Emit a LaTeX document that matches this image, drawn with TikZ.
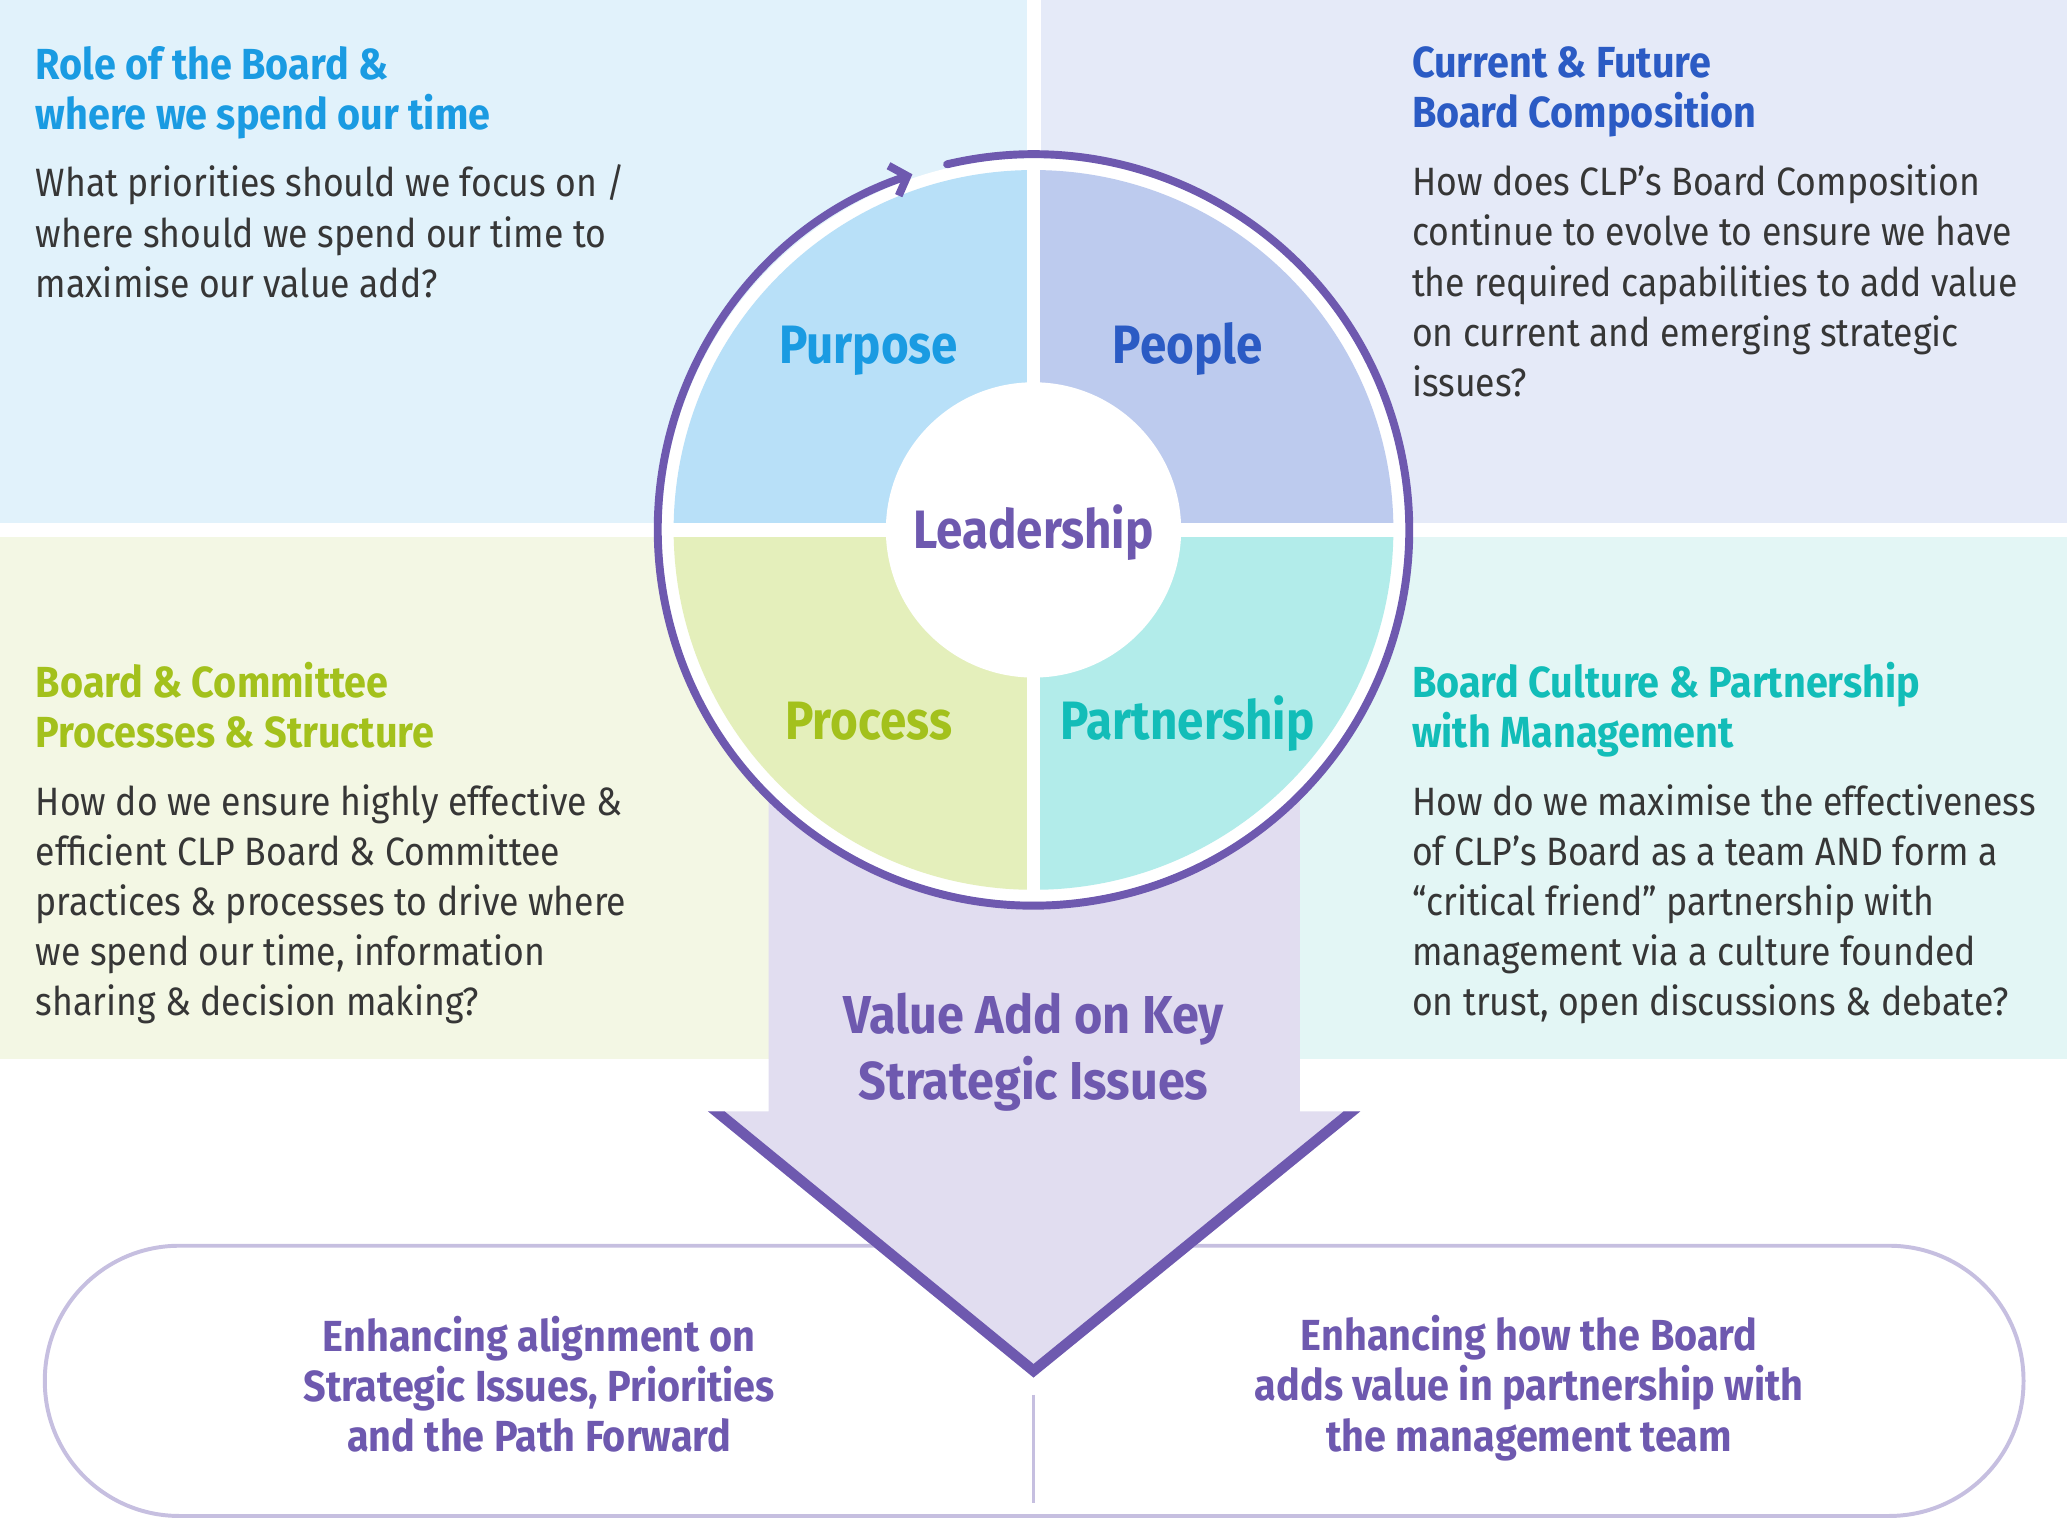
\documentclass[tikz,border=0pt]{standalone}
\usepackage{fontspec}
\setmainfont[FakeStretch=0.91]{Fira Sans}
\newfontfamily\segfont[FakeStretch=0.88]{Fira Sans}
\newfontfamily\bodyfont[FakeStretch=0.9]{Fira Sans}
\usetikzlibrary{arrows.meta}

\definecolor{tlbg}{HTML}{E1F2FB}
\definecolor{trbg}{HTML}{E5EAF8}
\definecolor{blbg}{HTML}{F3F7E4}
\definecolor{brbg}{HTML}{E3F6F5}
\definecolor{tlpie}{HTML}{B8E0F8}
\definecolor{trpie}{HTML}{BDCBEE}
\definecolor{blpie}{HTML}{E4EFBB}
\definecolor{brpie}{HTML}{B2ECEA}
\definecolor{tlhead}{HTML}{1A9BE2}
\definecolor{trhead}{HTML}{2B5BC4}
\definecolor{blhead}{HTML}{A3C11C}
\definecolor{brhead}{HTML}{12BDB8}
\definecolor{clppurple}{HTML}{6E59AF}
\definecolor{arrowfill}{HTML}{E1DDF0}
\definecolor{pillline}{HTML}{C6BFE0}
\definecolor{ink}{HTML}{363636}

\begin{document}
\begin{tikzpicture}[x=1pt, y=1pt,
  hdr/.style={anchor=north west, align=left, inner sep=0pt, font=\bfseries\fontsize{33}{38}\selectfont},
  txt/.style={anchor=north west, align=left, inner sep=0pt, text=ink, font=\bodyfont\fontsize{30}{38}\selectfont},
  seg/.style={anchor=base, inner sep=0pt, font=\segfont\bfseries\fontsize{41}{48}\selectfont},
  goal/.style={align=center, inner sep=0pt, text=clppurple, font=\bfseries\fontsize{33}{38}\selectfont}]
\useasboundingbox (0,0) rectangle (1568,1160);
% four background panels
\fill[tlbg] (0,763) rectangle (779,1160);
\fill[trbg] (790,763) rectangle (1568,1160);
\fill[blbg] (0,357) rectangle (779,753);
\fill[brbg] (790,357) rectangle (1568,753);
% outcome pill
\draw[pillline, line width=3pt, rounded corners=102pt] (34,10) rectangle (1535,215);
\coordinate (dtop) at (784,102);
\coordinate (dbot) at (784,20);
\draw[pillline, line width=2.5pt] (dtop) -- (dbot);
% big arrow
\coordinate (hl) at (537,317);
\coordinate (hr) at (1032,317);
\coordinate (tip) at (784,115);
\fill[arrowfill] (583,660) -- (583,317) -- (hl) -- (tip) -- (hr) -- (986,317) -- (986,660) -- cycle;
\begin{scope}
\clip (hl) -- (tip) -- (hr) -- cycle;
\draw[clppurple, line width=16pt, line join=miter] (hl) -- (tip) -- (hr);
\end{scope}
% wheel
\coordinate (c) at (784,758);
\fill[white] (c) circle[radius=282];
\fill[tlpie] (c) -- ++(180:273) arc[start angle=180, end angle=90, radius=273] -- cycle;
\fill[trpie] (c) -- ++(90:273) arc[start angle=90, end angle=0, radius=273] -- cycle;
\fill[brpie] (c) -- ++(0:273) arc[start angle=0, end angle=-90, radius=273] -- cycle;
\fill[blpie] (c) -- ++(-90:273) arc[start angle=-90, end angle=-180, radius=273] -- cycle;
\draw[white, line width=10pt] ([xshift=-280pt]c) -- ([xshift=280pt]c);
\draw[white, line width=10pt] ([yshift=-280pt]c) -- ([yshift=280pt]c);
\draw[clppurple, line width=6pt, line cap=round, -{Straight Barb[length=11pt, width=24pt]}]
  (c) ++(103.3:285) arc[start angle=103.3, end angle=-251.2, radius=285];
\fill[white] (c) circle[radius=112];
\node[seg, text=clppurple] (lead) at (784,744) {Leadership};
\node[seg, text=tlhead] (purpose) at (659,884) {Purpose};
\node[seg, text=trhead] (people) at (901,884) {People};
\node[seg, text=blhead] (process) at (659,599) {Process};
\node[seg, text=brhead] (partner) at (901,599) {Partnership};
% panel texts
\node[hdr, text=tlhead] (roleT) at (27,1125) {Role of the Board \&\\where we spend our time};
\node[txt] (roleB) at (27,1035) {What priorities should we focus on /\\where should we spend our time to\\maximise our value add?};
\node[hdr, text=trhead] (compT) at (1071,1125) {Current \& Future\\Board Composition};
\node[txt] (compB) at (1071,1035) {How does CLP’s Board Composition\\continue to evolve to ensure we have\\the required capabilities to add value\\on current and emerging strategic\\issues?};
\node[hdr, text=blhead] (procT) at (27,658) {Board \& Committee\\Processes \& Structure};
\node[txt] (procB) at (27,565) {How do we ensure highly effective \&\\efficient CLP Board \& Committee\\practices \& processes to drive where\\we spend our time, information\\sharing \& decision making?};
\node[hdr, text=brhead] (partT) at (1071,658) {Board Culture \& Partnership\\with Management};
\node[txt] (partB) at (1071,565) {How do we maximise the effectiveness\\of CLP’s Board as a team AND form a\\“critical friend” partnership with\\management via a culture founded\\on trust, open discussions \& debate?};
% arrow and pill texts
\node[goal, font=\bfseries\fontsize{40.5}{50}\selectfont] (value) at (784,362) {Value Add on Key\\Strategic Issues};
\node[goal] (alignT) at (409,110) {Enhancing alignment on\\Strategic Issues, Priorities\\and the Path Forward};
\node[goal] (enhT) at (1160,107) {Enhancing how the Board\\adds value in partnership with\\the management team};
\end{tikzpicture}
\end{document}
